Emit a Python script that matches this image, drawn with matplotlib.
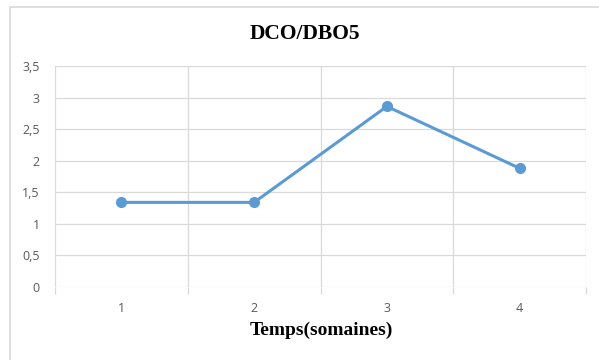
import matplotlib
matplotlib.use("Agg")
import matplotlib.pyplot as plt
from matplotlib.patches import Rectangle
from matplotlib.ticker import FixedLocator, FuncFormatter

weeks = [1, 2, 3, 4]
ratio = [1.34, 1.34, 2.86, 1.88]
y_ticks = [0, 0.5, 1, 1.5, 2, 2.5, 3, 3.5]

W, H = 599, 360
fig = plt.figure(figsize=(W / 100, H / 100), dpi=100)
fig.patch.set_facecolor("white")

# chart-area frame
fig.patches.append(Rectangle((10 / W, -0.1), 1.2, (H - 7) / H + 0.1,
                             transform=fig.transFigure, fill=False,
                             edgecolor="#D9D9D9", linewidth=1.2))

ax = fig.add_axes([55 / W, (H - 287) / H, 531 / W, (287 - 66) / H])
ax.set_xlim(0.5, 4.5)
ax.set_ylim(0, 3.5)

grid_c = "#D9D9D9"
for y in y_ticks:
    ax.axhline(y, color=grid_c, linewidth=0.9, zorder=0)
for x in [0.5, 1.5, 2.5, 3.5, 4.5]:
    ax.axvline(x, color=grid_c, linewidth=0.9, zorder=0)

for s in ax.spines.values():
    s.set_visible(False)

ax.plot(weeks, ratio, color="#5B9BD5", linewidth=2.2, marker="o",
        markersize=7, zorder=3, clip_on=False)

ax.set_yticks(y_ticks)
ax.yaxis.set_major_formatter(FuncFormatter(lambda v, p: f"{v:g}".replace(".", ",")))
ax.tick_params(axis="y", length=0, pad=11, labelsize=9, labelcolor="#595959")

ax.set_xticks(weeks)
ax.set_xticklabels([str(w) for w in weeks])
ax.xaxis.set_minor_locator(FixedLocator([0.5, 1.5, 2.5, 3.5, 4.5]))
ax.tick_params(axis="x", which="major", length=0, pad=11, labelsize=9,
               labelcolor="#595959")
ax.tick_params(axis="x", which="minor", length=5, width=0.9, color=grid_c)

for lab in ax.get_xticklabels() + ax.get_yticklabels():
    lab.set_family("Open Sans")

fig.text(305 / W, 1 - 34 / H, "DCO/DBO5", ha="center",
         va="center", fontsize=15.5, fontweight="bold", family="Liberation Serif")
fig.text(321 / W, 1 - 330 / H, "Temps(somaines)", ha="center",
         va="center", fontsize=14, fontweight="bold", family="Liberation Serif")

fig.savefig("out.png", dpi=100, facecolor="white")
